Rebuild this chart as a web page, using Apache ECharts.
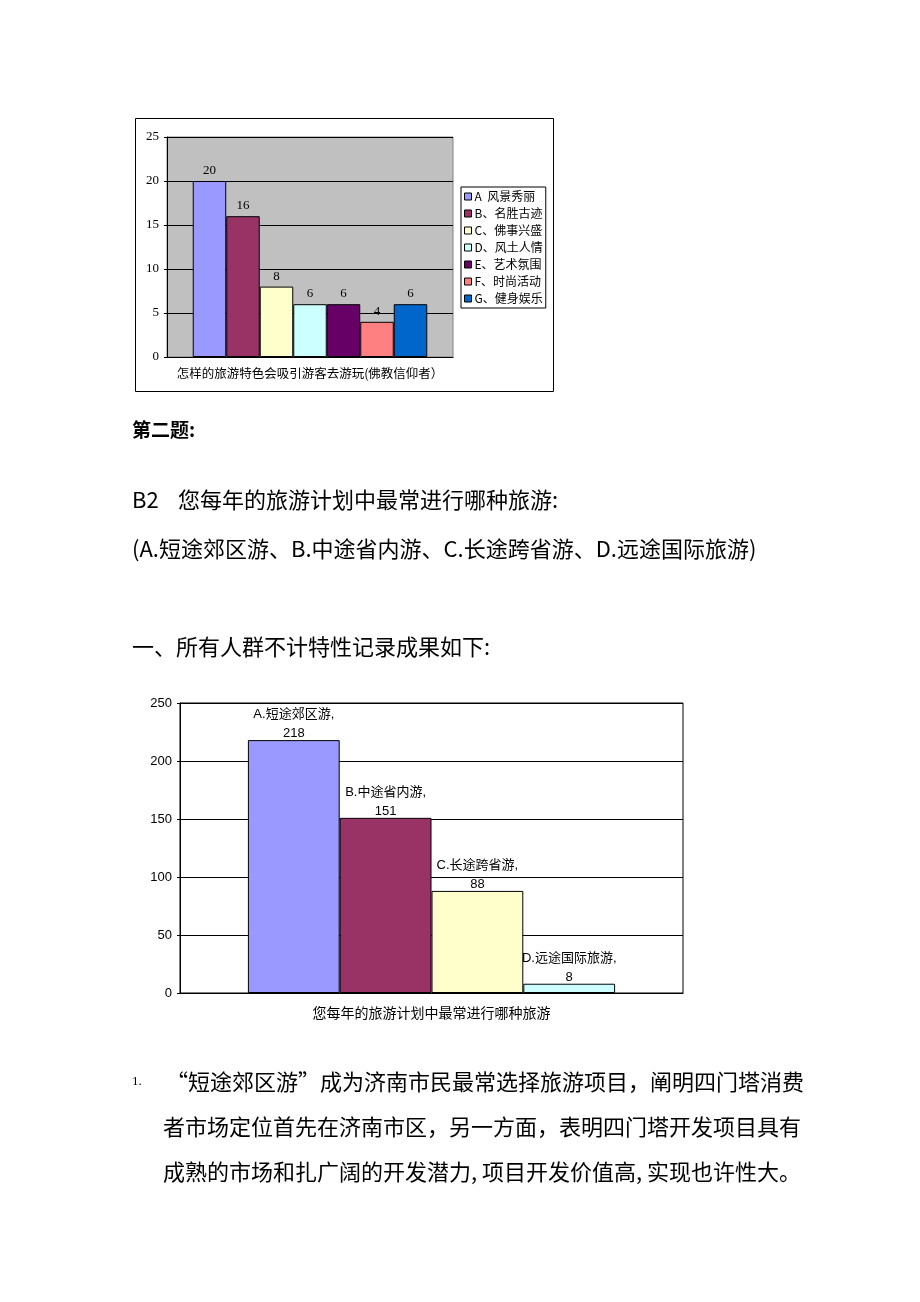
<!DOCTYPE html>
<html><head><meta charset="utf-8">
<script src="https://cdn.jsdelivr.net/npm/echarts@6/dist/echarts.min.js"></script>
<style>html,body{margin:0;padding:0;background:#fff;}#c{width:920px;height:1302px;}</style>
</head><body><div id="c"></div>
<script>
// Chart 1 data
var c1Category = ['怎样的旅游特色会吸引游客去游玩(佛教信仰者）'];
var c1Names = ['A  风景秀丽','B、名胜古迹','C、佛事兴盛','D、风土人情','E、艺术氛围','F、时尚活动','G、健身娱乐'];
var c1Values = [20,16,8,6,6,4,6];
var c1Colors = ['#9999FF','#993366','#FFFFCC','#CCFFFF','#660066','#FF8080','#0066CC'];
var c1Ticks = [0,5,10,15,20,25];
// Chart 2 data
var c2Category = ['您每年的旅游计划中最常进行哪种旅游'];
var c2Names = ['A.短途郊区游','B.中途省内游','C.长途跨省游','D.远途国际旅游'];
var c2Values = [218,151,88,8];
var c2Colors = ['#9999FF','#993366','#FFFFCC','#CCFFFF'];
var c2Ticks = [0,50,100,150,200,250];

var CJK = "'Noto Sans CJK SC', sans-serif";
var SERIF = "'Liberation Serif', 'Noto Sans CJK SC', serif";
var SANS = "'Liberation Sans', 'Noto Sans CJK SC', sans-serif";

var chart = echarts.init(document.getElementById('c'));
var series = [];
c1Names.forEach(function(n,i){
  series.push({name:n,type:'bar',xAxisIndex:0,yAxisIndex:0,barGap:'0%',barCategoryGap:'18%',
    data:[c1Values[i]],itemStyle:{color:c1Colors[i],borderColor:'#000',borderWidth:1},
    label:{show:true,position:'top',distance:4,color:'#000',fontSize:13,fontFamily:SERIF}});
});
c2Names.forEach(function(n,i){
  series.push({name:n,type:'bar',xAxisIndex:1,yAxisIndex:1,barGap:'0%',barCategoryGap:'27%',
    data:[c2Values[i]],itemStyle:{color:c2Colors[i],borderColor:'#000',borderWidth:1},
    label:{show:true,position:'top',distance:-3,color:'#000',fontSize:13,lineHeight:19,fontFamily:SANS,
      formatter:'{a},\n{c}'}});
});

var g = function(x,y,s,size,opts){
  opts = opts||{};
  return {type:'text',x:x,y:y,z:10,style:{text:s,fill:'#000',fontSize:size,fontWeight:opts.bold?'bold':'normal',fontFamily:opts.font||CJK,verticalAlign:'middle',align:'left'}};
};

chart.setOption({
  animation:false,
  backgroundColor:'#fff',
  graphic:[
    {type:'rect',shape:{x:135.5,y:118.5,width:418,height:273},style:{fill:'#fff',stroke:'#000',lineWidth:1},z:-10},
    g(132,430,'第二题:',19,{bold:true}),
    g(132,500,'B2',22),
    g(178,500,'您每年的旅游计划中最常进行哪种旅游:',22),
    g(132,549,'(A.短途郊区游、B.中途省内游、C.长途跨省游、D.远途国际旅游)',22),
    g(132,647,'一、所有人群不计特性记录成果如下:',22),
    g(132,1082,'1.',13,{font:SERIF}),
    g(166,1082,'“短途郊区游”成为济南市民最常选择旅游项目，阐明四门塔消费',22),
    g(163,1127,'者市场定位首先在济南市区，另一方面，表明四门塔开发项目具有',22),
    g(163,1172,'成熟的市场和扎广阔的开发潜力, 项目开发价值高, 实现也许性大。',22)
  ],
  legend:{
    data:c1Names, orient:'vertical', left:461, top:187,
    itemWidth:7, itemHeight:7, itemGap:4, icon:'rect',
    itemStyle:{borderColor:'#000',borderWidth:1},
    backgroundColor:'#fff', borderColor:'#000', borderWidth:1,
    padding:[3,3,3,3],
    textStyle:{fontSize:12,lineHeight:13,color:'#000',fontFamily:CJK,padding:[0,0,0,-2]},
    selectedMode:false
  },
  grid:[
    {left:167,top:137,width:286,height:220,show:true,backgroundColor:'#C0C0C0',borderColor:'#808080',borderWidth:1},
    {left:180,top:703,width:503,height:290,show:true,backgroundColor:'#fff',borderColor:'#000',borderWidth:1}
  ],
  xAxis:[
    {type:'category',gridIndex:0,data:c1Category,axisLine:{lineStyle:{color:'#000'}},axisTick:{show:false},
      axisLabel:{color:'#000',fontSize:12.5,fontFamily:CJK,margin:10}},
    {type:'category',gridIndex:1,data:c2Category,axisLine:{lineStyle:{color:'#000'}},axisTick:{show:false},
      axisLabel:{color:'#000',fontSize:14,fontFamily:CJK,margin:13}}
  ],
  yAxis:[
    {type:'value',gridIndex:0,min:c1Ticks[0],max:c1Ticks[c1Ticks.length-1],interval:5,
      axisLine:{show:true,lineStyle:{color:'#000'}},axisTick:{show:true,length:3,lineStyle:{color:'#000'}},
      splitLine:{lineStyle:{color:'#000',width:1}},
      axisLabel:{color:'#000',fontSize:13,fontFamily:SERIF,margin:8}},
    {type:'value',gridIndex:1,min:c2Ticks[0],max:c2Ticks[c2Ticks.length-1],interval:50,
      axisLine:{show:true,lineStyle:{color:'#000'}},axisTick:{show:true,length:3,lineStyle:{color:'#000'}},
      splitLine:{lineStyle:{color:'#000',width:1}},
      axisLabel:{color:'#000',fontSize:13,fontFamily:SANS,margin:8}}
  ],
  series:series
});
</script></body></html>
